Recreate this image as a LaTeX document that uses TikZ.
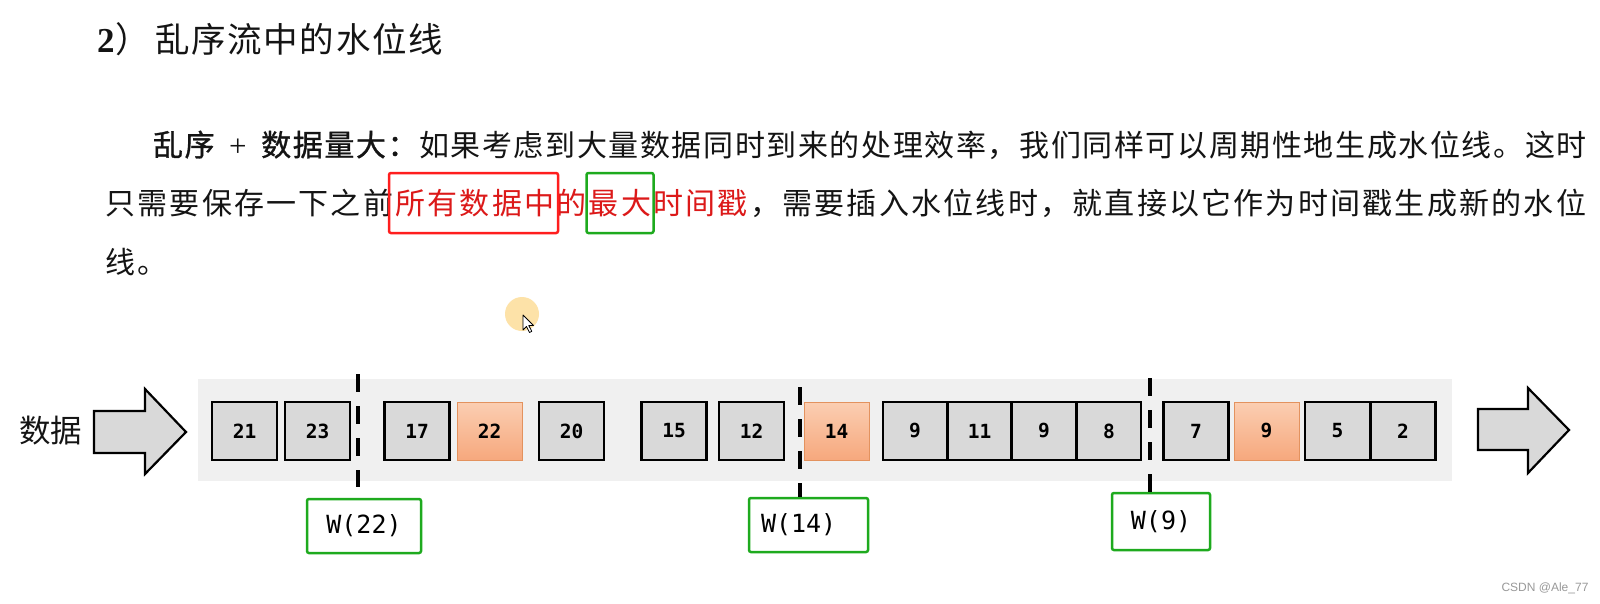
\documentclass[tikz,border=0pt]{standalone}
\usepackage{fontspec}
\setmainfont{Liberation Serif}
\newfontfamily\cjk{Noto Sans CJK SC}
\newfontfamily\cjkbold[FakeBold=1.0]{Noto Sans CJK SC}
\newfontfamily\monofont{DejaVu Sans Mono}
\newfontfamily\wmfont{Liberation Sans}
\definecolor{boxgray}{RGB}{217,217,217}
\definecolor{bandgray}{RGB}{240,240,240}
\definecolor{orangetop}{RGB}{251,206,178}
\definecolor{orangebot}{RGB}{246,168,125}
\definecolor{orangeedge}{RGB}{227,146,94}
\definecolor{tred}{RGB}{220,25,25}
\definecolor{boxred}{RGB}{255,30,30}
\definecolor{boxgreen}{RGB}{30,170,30}
\definecolor{textblack}{RGB}{20,20,20}
\definecolor{cursorglow}{RGB}{253,226,168}
\newlength\pitchlen
\newcommand\spreadtext[2]{\setlength\pitchlen{#1}\spreadloop#2\relax}
\def\spreadloop#1{\ifx\relax#1\else\makebox[\pitchlen][c]{#1}\expandafter\spreadloop\fi}
\tikzset{
  txt/.style={anchor=base west, inner sep=0pt, text=textblack},
  gbox/.style={draw=black, line width=2.2pt, fill=boxgray, minimum width=65pt, minimum height=58pt, inner sep=0pt, font=\monofont\fontsize{19.5}{19.5}\selectfont\bfseries},
  obox/.style={draw=orangeedge, line width=0.9pt, top color=orangetop, bottom color=orangebot, minimum width=65pt, minimum height=58pt, inner sep=0pt, font=\monofont\fontsize{19.5}{19.5}\selectfont\bfseries},
  wbox/.style={draw=boxgreen, line width=2.5pt, rounded corners=2pt, fill=white, inner sep=0pt, minimum height=54pt, font=\monofont\fontsize{25}{25}\selectfont},
  hlbox/.style={line width=2.5pt, rounded corners=2pt, inner sep=0pt, minimum height=60pt},
  wmline/.style={line width=4pt, dash pattern=on 18pt off 14pt},
  bigarrow/.style={draw=black, line width=2.2pt, fill=boxgray, line join=miter},
}
\begin{document}
\begin{tikzpicture}[x=1pt, y=-1pt]
\useasboundingbox (0,0) rectangle (1600,603);
\fill[white] (0,0) rectangle (1600,603);

% title
\node[txt, font=\rmfamily\bfseries\fontsize{35}{35}\selectfont] (t2) at (97,52) {2};
\node[txt, font=\cjk\fontsize{35}{35}\selectfont] (tp) at (115,52) {）};
\node[txt, font=\cjk\fontsize{34.5}{34.5}\selectfont] (title) at (154,52) {\spreadtext{36.2pt}{乱序流中的水位线}};

% paragraph
\node[txt, font=\cjk\fontsize{30}{30}\selectfont] (l1) at (152,156)
  {{\cjkbold\spreadtext{31.6pt}{乱序}}\makebox[45pt]{\rmfamily\fontsize{31}{31}\selectfont +}{\cjkbold\spreadtext{31.6pt}{数据量大：}}\spreadtext{31.6pt}{如果考虑到大量数据同时到来的处理效率，我们同样可以周期性地生成水位线。这时}};
\node[txt, font=\cjk\fontsize{30}{30}\selectfont] (l2) at (104,214)
  {\spreadtext{32.24pt}{只需要保存一下之前}\textcolor{tred}{\spreadtext{32.24pt}{所有数据中的最大时间戳}}\spreadtext{32.24pt}{，需要插入水位线时，就直接以它作为时间戳生成新的水位}};
\node[txt, font=\cjk\fontsize{30}{30}\selectfont] (l3) at (104,273) {\spreadtext{32.24pt}{线。}};

\node[hlbox, draw=boxred, minimum width=169pt] (redmark) at (473.5,203) {};
\node[hlbox, draw=boxgreen, minimum width=67pt] (greenmark) at (620,203) {};

% cursor highlight
\fill[cursorglow] (522,314) circle (17);
\draw[fill=white, line width=0.8pt, line join=round] (523,315) -- (523,330) -- (526.5,326.5) -- (529.5,332.5) -- (531.8,331.4) -- (528.8,325.5) -- (533.5,325.5) -- cycle;

% label
\node[txt, font=\cjk\fontsize{31.5}{31.5}\selectfont] (lbl) at (19,442) {\spreadtext{31.5pt}{数据}};

% arrows
\draw[bigarrow] (94,411) -- (145,411) -- (145,389) -- (186,432) -- (145,474) -- (145,453) -- (94,453) -- cycle;
\draw[bigarrow] (1478,409) -- (1528,409) -- (1528,388) -- (1569,430) -- (1528,473) -- (1528,450) -- (1478,450) -- cycle;

% band
\node[fill=bandgray, minimum width=1254pt, minimum height=102pt, inner sep=0pt] (band) at (825,430) {};

% data boxes
\node[gbox] (b1) at (244.5,431) {21};
\node[gbox] (b2) at (317.5,431) {23};
\node[gbox] (b3) at (417,431) {17};
\node[obox] (b4) at (489.5,431) {22};
\node[gbox] (b5) at (571.5,431) {20};
\node[gbox] (b6) at (674,431) {15};
\node[gbox] (b7) at (751.5,431) {12};
\node[obox] (b8) at (836.5,431) {14};
\node[gbox, minimum width=64pt] (b9) at (915,431) {9};
\node[gbox, minimum width=64pt] (b10) at (979.5,431) {11};
\node[gbox, minimum width=64pt] (b11) at (1044,431) {9};
\node[gbox, minimum width=64pt] (b12) at (1109,431) {8};
\node[gbox] (b13) at (1196,431) {7};
\node[obox] (b14) at (1266.5,431) {9};
\node[gbox] (b15) at (1337.5,431) {5};
\node[gbox] (b16) at (1403,431) {2};

% watermark boxes
\node[wbox, minimum width=114pt] (w1) at (364,526) {W(22)};
\node[wbox, minimum width=119pt] (w2) at (808.5,525) {\makebox[95pt][l]{W(14)}};
\node[wbox, minimum width=98pt, minimum height=57pt] (w3) at (1161,521.5) {W(9)};

% dashed watermark lines
\coordinate (d1t) at (358,374);
\coordinate (d1b) at (358,487);
\coordinate (d2t) at (800,387);
\coordinate (d3t) at (1150,378);
\draw[wmline] (d1t) -- (d1b);
\draw[wmline] (d2t) -- (d2t |- w2.north);
\draw[wmline] (d3t) -- (d3t |- w3.north);

% credit
\node[inner sep=0pt, text=gray!80, font=\wmfont\fontsize{12}{12}\selectfont] (credit) at (1545,588) {CSDN @Ale\_77};
\end{tikzpicture}
\end{document}
